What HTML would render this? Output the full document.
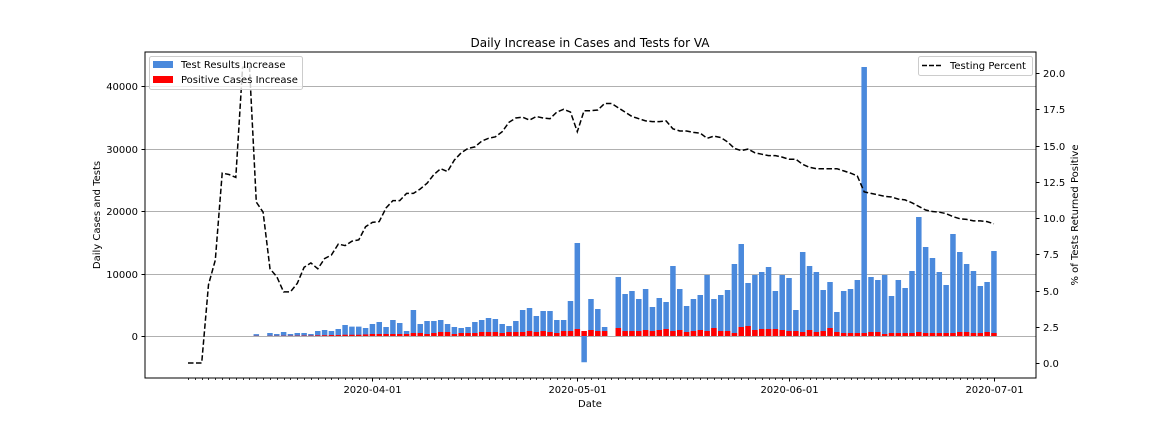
<!DOCTYPE html>
<html><head><meta charset="utf-8"><style>
body{margin:0;background:#fff;}
svg{display:block;font-family:"DejaVu Sans","Liberation Sans",sans-serif;}
</style></head><body>
<svg id="chart" width="1152" height="432" xmlns="http://www.w3.org/2000/svg">
<rect width="1152" height="432" fill="#fff"/>
<text x="590" y="47" font-size="12" text-anchor="middle">Daily Increase in Cases and Tests for VA</text>
<g id="grid"></g><g id="bars"></g><g id="line"></g><g id="axes"></g>
<rect x="145" y="52" width="891" height="326" fill="none" stroke="#000" stroke-width="1"/>
<text x="590" y="407" font-size="10" text-anchor="middle">Date</text>
<text transform="translate(100,215) rotate(-90)" font-size="10" text-anchor="middle">Daily Cases and Tests</text>
<text transform="translate(1078,215) rotate(-90)" font-size="10" text-anchor="middle">% of Tests Returned Positive</text>
<g>
<rect x="149.5" y="56.5" width="153" height="33" fill="#fff" fill-opacity="0.8" stroke="#ccc" rx="2"/>
<rect x="153" y="61" width="20" height="7" fill="#4a89dc"/>
<text x="181" y="68" font-size="10">Test Results Increase</text>
<rect x="153" y="76" width="20" height="7" fill="#ff0000"/>
<text x="181" y="83" font-size="10">Positive Cases Increase</text>
</g>
<g>
<rect x="918.5" y="56.5" width="114" height="19" fill="#fff" fill-opacity="0.8" stroke="#ccc" rx="2"/>
<line x1="922" y1="65.5" x2="942" y2="65.5" stroke="#000" stroke-width="1.5" stroke-dasharray="5,2"/>
<text x="950" y="69" font-size="10">Testing Percent</text>
</g>
</svg>
<script>
const barStartDay = 10; // Mar 15 relative to Mar 5
const tests = [300,0,480,320,640,320,480,480,320,800,960,800,1120,1760,1500,1500,1280,
1920,2240,1440,2560,2080,800,4160,1920,2400,2400,2560,1920,1440,1280,1440,2240,2560,2880,2720,1920,1600,2400,4160,4480,3200,4000,4000,2560,2560,5600,
14880,-4200,5920,4320,1440,0,9440,6720,7200,5920,7520,4640,6080,5440,11200,7520,4800,5920,6560,9760,5920,6560,7360,11520,14720,8480,9760,10240,11040,7200,9760,
9280,4160,13440,11200,10240,7360,8640,3840,7200,7520,8960,43040,9440,8960,9760,6400,8960,7680,10400,19040,14240,12480,10240,8160,16320,13440,11520,10400,8000,8640,13600];
const positives = [30,0,30,30,40,40,50,60,60,100,120,150,150,200,200,200,250,
320,320,320,320,320,320,480,480,320,480,640,640,320,480,480,480,640,640,640,480,640,640,640,800,640,800,640,480,800,800,
1120,800,960,800,800,0,1280,800,800,800,960,800,960,1120,800,960,640,800,960,800,1280,800,800,480,1440,1600,960,1120,1120,1120,960,
800,800,640,960,640,800,1280,640,480,480,480,480,640,640,320,480,480,480,480,640,480,480,480,480,480,640,640,480,480,640,480];
const pct = [0,0,0,5.4,7.1,13.1,13.0,12.8,20.4,20.4,11.1,10.4,6.5,5.95,4.9,4.9,5.5,6.6,6.9,6.5,7.2,7.45,8.2,8.1,8.4,8.5,9.4,9.7,9.75,10.7,11.2,11.2,11.7,11.7,12.0,12.4,13.0,13.4,13.2,14.0,14.5,14.8,14.9,15.3,15.5,15.6,15.95,16.6,16.9,16.95,16.75,17.0,16.9,16.85,17.3,17.5,17.3,15.95,
17.4,17.4,17.45,17.9,17.9,17.6,17.3,17.0,16.85,16.7,16.65,16.65,16.7,16.15,16.0,16.0,15.9,15.85,15.5,15.65,15.55,15.25,14.8,14.65,14.75,14.5,14.4,14.3,14.3,14.2,14.05,14.05,13.7,13.5,13.4,13.4,13.4,13.4,13.25,13.1,12.9,11.8,11.7,11.6,11.5,11.45,11.3,11.25,11.05,10.8,10.55,10.45,10.4,10.3,10.1,9.95,9.9,9.8,9.8,9.75,9.6];
const leftTicks = [0,10000,20000,30000,40000];
const rightTicks = [0,2.5,5,7.5,10,12.5,15,17.5,20];
const monthLabels = ["2020-04-01","2020-05-01","2020-06-01","2020-07-01"];
const monthDays = [27,57,88,118];
const totalDays = 119;

const NS="http://www.w3.org/2000/svg";
const X0=188, DX=6.83;
const xDay = d => X0 + DX*d;
const yL = v => 336 - v*62.5/10000;
const yR = v => 363 - v*14.5;
function mk(tag, attrs, parent){const e=document.createElementNS(NS,tag);for(const k in attrs)e.setAttribute(k,attrs[k]);parent.appendChild(e);return e;}
const grid=document.getElementById('grid'), bars=document.getElementById('bars'), line=document.getElementById('line'), axes=document.getElementById('axes');

leftTicks.forEach(v=>{
  const y=Math.round(yL(v))+0.5;
  const g=mk('line',{x1:145,x2:1036,y1:y,y2:y,stroke:'#b0b0b0','stroke-width':1},grid);
  
  
  mk('line',{x1:141.5,x2:145,y1:y,y2:y,stroke:'#000'},axes);
  const t=mk('text',{x:138,y:y+3.5,'font-size':10,'text-anchor':'end'},axes);
  t.textContent=v;
  
  
});
rightTicks.forEach(v=>{
  const y=Math.round(yR(v))+0.5;
  mk('line',{x1:1036,x2:1039.5,y1:y,y2:y,stroke:'#000'},axes);
  const t=mk('text',{x:1043,y:y+3.5,'font-size':10},axes);
  t.textContent=v.toFixed(1);
  
  
});
for(let d=0; d<totalDays; d++){
  const x=Math.round(xDay(d))+0.5;
  mk('line',{x1:x,x2:x,y1:378,y2:380,stroke:'#000','stroke-width':0.8},axes);
}
monthDays.forEach((d,i)=>{
  const x=Math.round(xDay(d))+0.5;
  mk('line',{x1:x,x2:x,y1:378,y2:381.5,stroke:'#000'},axes);
  const t=mk('text',{x:x,y:393,'font-size':10,'text-anchor':'middle'},axes);
  t.textContent=monthLabels[i];
  
  
});
const BW=5.5;
tests.forEach((v,i)=>{
  if(!v) return;
  const x=xDay(barStartDay+i)-BW/2;
  const y1=yL(Math.max(v,0)), y2=yL(Math.min(v,0));
  const r=mk('rect',{x:x,y:y1,width:BW,height:y2-y1,fill:'#4a89dc'},bars);
  
  
});
positives.forEach((v,i)=>{
  if(!v) return;
  const x=xDay(barStartDay+i)-BW/2;
  const r=mk('rect',{x:x,y:yL(v),width:BW,height:yL(0)-yL(v),fill:'#ff0000'},bars);
  
  
});
const pts=pct.map((v,i)=>xDay(i).toFixed(1)+','+yR(v).toFixed(1)).join(' ');
const pl=mk('polyline',{points:pts,fill:'none',stroke:'#000','stroke-width':1.5,'stroke-dasharray':'5.5,2.5'},line);


</script>
</body></html>
